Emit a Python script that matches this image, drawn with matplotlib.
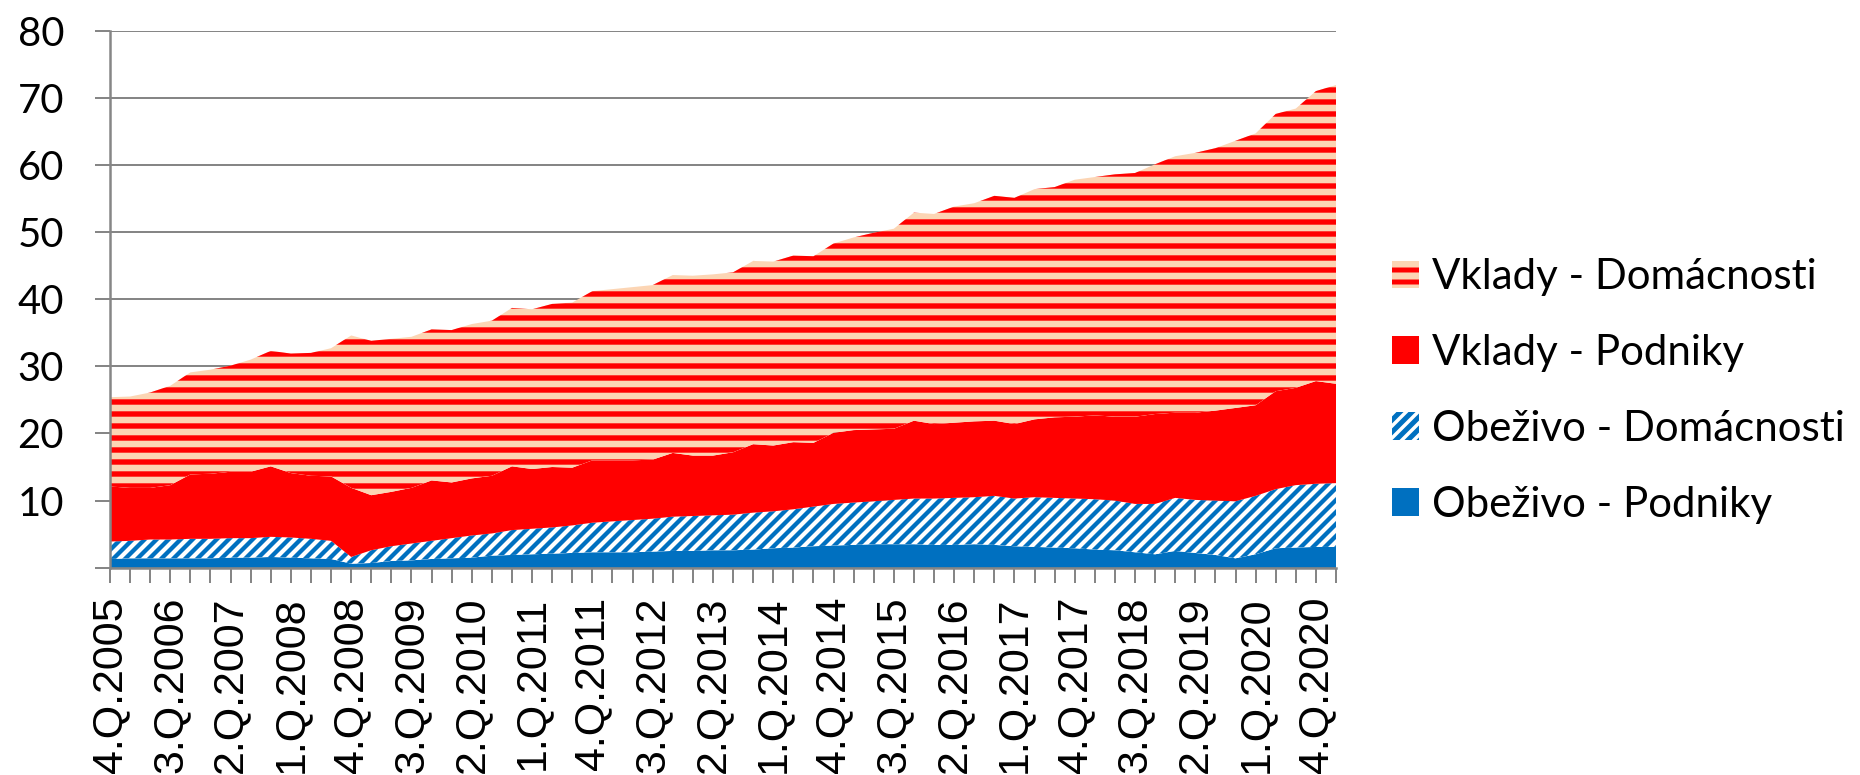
import matplotlib
matplotlib.use("Agg")
import matplotlib.pyplot as plt
import numpy as np

# quarters 4.Q.2005 .. 1.Q.2021
quarters = [f"{q}.Q.{y}" for y in range(2005, 2022) for q in range(1, 5)][3:65]
tick_labels = quarters[::3]

series_names = ["Obeživo - Podniky", "Obeživo - Domácnosti",
                "Vklady - Podniky", "Vklady - Domácnosti"]

obezivo_podniky = [
    1.3, 1.4, 1.4, 1.4, 1.4, 1.4, 1.5, 1.5, 1.6, 1.5, 1.4, 1.3,
    0.6, 0.7, 1.0, 1.1, 1.3, 1.4, 1.5, 1.8, 1.9, 2.0, 2.1, 2.2,
    2.3, 2.3, 2.3, 2.4, 2.5, 2.5, 2.6, 2.6, 2.7, 2.9, 3.0, 3.2,
    3.3, 3.4, 3.5, 3.5, 3.5, 3.4, 3.4, 3.5, 3.4, 3.2, 3.1, 3.0,
    2.9, 2.7, 2.6, 2.3, 2.0, 2.5, 2.2, 1.9, 1.4, 2.0, 2.9, 3.0,
    3.1, 3.1]
obezivo_domacnosti = [
    2.6, 2.6, 2.8, 2.8, 2.9, 2.9, 2.9, 2.9, 3.0, 3.0, 2.9, 2.7,
    1.0, 1.9, 2.2, 2.5, 2.7, 3.0, 3.3, 3.3, 3.7, 3.8, 3.9, 4.1,
    4.4, 4.6, 4.8, 4.9, 5.1, 5.2, 5.2, 5.3, 5.5, 5.5, 5.7, 5.9,
    6.2, 6.3, 6.4, 6.6, 6.8, 6.9, 7.0, 7.0, 7.3, 7.1, 7.4, 7.4,
    7.4, 7.5, 7.4, 7.2, 7.5, 7.9, 7.9, 8.1, 8.5, 8.7, 8.8, 9.3,
    9.4, 9.5]
vklady_podniky = [
    8.2, 7.9, 7.7, 8.1, 9.6, 9.7, 9.9, 9.9, 10.5, 9.6, 9.4, 9.6,
    10.3, 8.2, 8.1, 8.3, 9.0, 8.3, 8.5, 8.6, 9.5, 8.9, 9.0, 8.6,
    9.3, 9.1, 8.9, 8.8, 9.5, 9.0, 8.9, 9.3, 10.2, 9.8, 10.0, 9.5,
    10.6, 10.8, 10.7, 10.6, 11.6, 11.1, 11.2, 11.3, 11.2, 11.1, 11.6, 12.0,
    12.2, 12.5, 12.5, 13.0, 13.4, 12.7, 13.0, 13.4, 13.9, 13.5, 14.6, 14.5,
    15.3, 14.8]
vklady_domacnosti = [
    13.3, 13.6, 14.2, 14.8, 15.2, 15.5, 15.8, 16.7, 17.2, 17.8, 18.3, 19.1,
    22.7, 23.0, 22.8, 22.5, 22.5, 22.7, 23.0, 23.1, 23.6, 23.8, 24.3, 24.6,
    25.2, 25.5, 25.8, 26.0, 26.5, 26.8, 27.0, 26.8, 27.3, 27.4, 27.8, 27.8,
    28.2, 28.7, 29.3, 29.8, 31.0, 31.3, 32.2, 32.5, 33.5, 33.7, 34.3, 34.3,
    35.3, 35.5, 36.1, 36.3, 37.2, 38.2, 38.7, 39.1, 39.8, 40.5, 41.3, 41.6,
    43.2, 44.5]

BLUE = "#0070C0"
RED = "#FF0000"
PEACH = "#FCD5B4"
GRID = "#868686"

# hatch density follows dpi, 72 dpi gives stripes ~12 px apart
plt.rcParams["hatch.linewidth"] = 5.0
fig = plt.figure(figsize=(1860 / 72, 775 / 72), dpi=72)
ax = fig.add_axes([110 / 1860, 1 - 567.7 / 775, 1226 / 1860, 537 / 775])

x = np.arange(len(quarters))
layers = ax.stackplot(x, obezivo_podniky, obezivo_domacnosti, vklady_podniky,
                      vklady_domacnosti, labels=series_names,
                      colors=[BLUE, "white", RED, PEACH], linewidth=0)

styles = [(None, None, 0), (BLUE, "//", 4.3), (None, None, 0), (RED, "-", 5.4)]
for poly, (edge, hatch, hlw) in zip(layers, styles):
    poly.set_linewidth(0)
    if hatch:
        poly.set_edgecolor(edge)
        poly.set_hatch(hatch)
        if hasattr(poly, "set_hatch_linewidth"):
            poly.set_hatch_linewidth(hlw)
    else:
        poly.set_edgecolor("none")

ax.set_xlim(0, len(quarters) - 1)
ax.set_ylim(0, 80)
ax.set_yticks(range(0, 81, 10))
ax.set_yticklabels([""] + [str(v) for v in range(10, 81, 10)],
                   family="Lato", fontsize=40)
ax.set_xticks(x)
ax.set_xticklabels([q if q in tick_labels else "" for q in quarters],
                   rotation=90, family="Liberation Sans", fontsize=43)

ax.yaxis.grid(True, color=GRID, linewidth=2)
ax.set_axisbelow(True)
ax.tick_params(axis="y", length=15, width=2, color=GRID, pad=31)
ax.tick_params(axis="x", length=15, width=2, color=GRID, pad=14)
for side in ["top", "right"]:
    ax.spines[side].set_visible(False)
for side in ["left", "bottom"]:
    ax.spines[side].set_color(GRID)
    ax.spines[side].set_linewidth(2.5)

handles, labels = ax.get_legend_handles_labels()
fig.legend(handles[::-1], labels[::-1], loc="center left",
           bbox_to_anchor=(1392 / 1860, 1 - 391 / 775), frameon=False,
           prop={"family": "Lato", "size": 42},
           handlelength=27 / 42, handleheight=27 / 42, handletextpad=0.31,
           labelspacing=0.9, borderpad=0, borderaxespad=0)

fig.savefig("out.png", dpi=72)
